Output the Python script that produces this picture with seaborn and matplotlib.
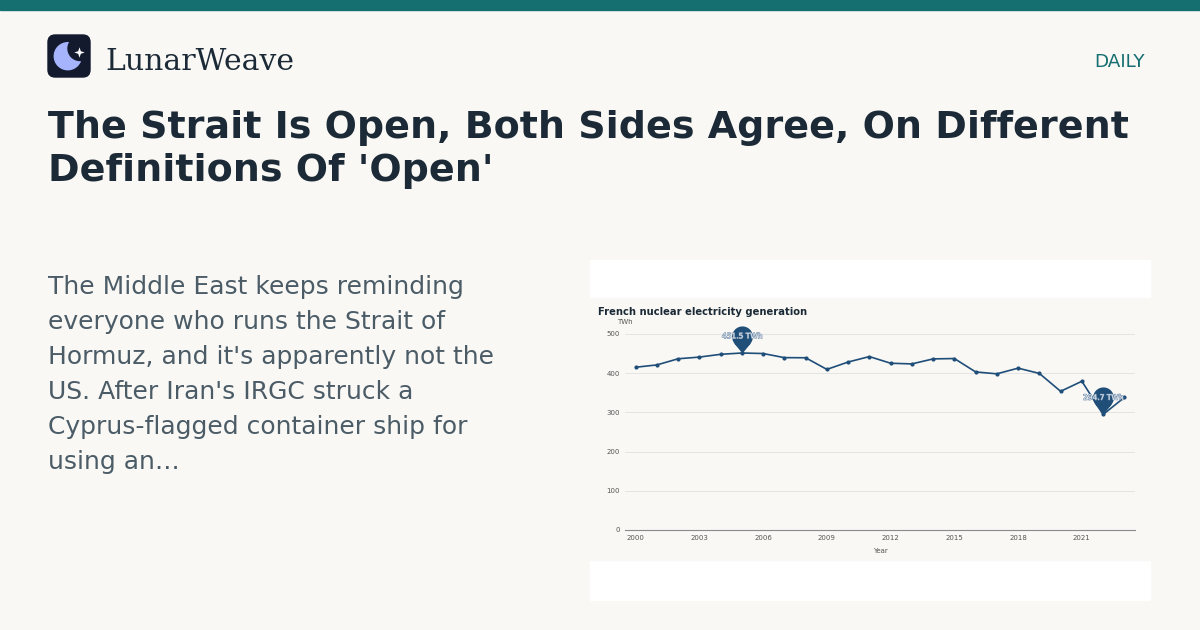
""" LunarWeave card - French nuclear generation chart. """

import numpy as np
import pandas as pd
import matplotlib
matplotlib.use("Agg")
import matplotlib.pyplot as plt
import matplotlib.patheffects as pe
from matplotlib.patches import FancyBboxPatch, Rectangle, Circle
from matplotlib.path import Path
import seaborn as sns

# data
years = list(range(2000, 2024))
twh = [415.2, 421.1, 436.8, 441.1, 448.2, 451.5, 450.2, 439.7, 439.4, 409.7,
       428.5, 442.4, 425.4, 423.7, 436.5, 437.4, 403.2, 398.4, 412.9, 399.4,
       353.8, 379.4, 294.7, 338.2]
y_ticks = [0, 100, 200, 300, 400, 500]
x_ticks = [2000, 2003, 2006, 2009, 2012, 2015, 2018, 2021]

title_lines = ["The Strait Is Open, Both Sides Agree, On Different",
               "Definitions Of 'Open'"]
desc_lines = ["The Middle East keeps reminding",
              "everyone who runs the Strait of",
              "Hormuz, and it's apparently not the",
              "US. After Iran's IRGC struck a",
              "Cyprus-flagged container ship for",
              "using an\u2026"]

df = pd.DataFrame({"Year": years, "TWh": twh})

BG = "#f9f8f5"
TEAL = "#156f70"
DARK = "#1b2a36"
GREY = "#4b5c67"
LINE = "#1f4e79"
NAVY = "#131a2e"

W, H = 1200, 630

sns.set_theme(style="white")
plt.rcParams["font.family"] = ["DejaVu Sans"]

fig = plt.figure(figsize=(12, 6.3), dpi=100)
fig.patch.set_facecolor(BG)


def fx(px):
    return px / W


def fy(py):
    return 1 - py / H


# top bar
fig.patches.append(Rectangle((0, fy(10)), 1, 10 / H, transform=fig.transFigure,
                             color=TEAL, zorder=-5))

# logo
fig.patches.append(FancyBboxPatch((fx(48), fy(77)), 42 / W, 42 / H,
                                  boxstyle="round,pad=0,rounding_size=0.006",
                                  transform=fig.transFigure, color=NAVY,
                                  mutation_aspect=W / H, zorder=-5))
logo_ax = fig.add_axes([fx(48), fy(77), 42 / W, 42 / H])
logo_ax.set_xlim(0, 42)
logo_ax.set_ylim(42, 0)
logo_ax.axis("off")
logo_ax.add_patch(Circle((19.8, 21.2), 13.5, color="#a5b4fc"))
logo_ax.add_patch(Circle((32, 13.5), 12, color=NAVY))
star = Path([(0, -1), (0.25, -0.25), (1, 0), (0.25, 0.25), (0, 1),
             (-0.25, 0.25), (-1, 0), (-0.25, -0.25), (0, -1)])
logo_ax.plot([30.5], [17], marker=star, markersize=7.5, color="white", mew=0)

fig.text(fx(105), fy(70), "LunarWeave", family="DejaVu Serif", fontsize=21.5,
         color=DARK, va="baseline", ha="left")
fig.text(fx(1145), fy(67), "DAILY", fontsize=13.2, color=TEAL,
         va="baseline", ha="right")

for i, line in enumerate(title_lines):
    fig.text(fx(48), fy(138 + i * 43), line, fontsize=27.4, fontweight="bold",
             color=DARK, va="baseline", ha="left")

for i, line in enumerate(desc_lines):
    fig.text(fx(48), fy(294 + i * 35), line, fontsize=18, color=GREY,
             va="baseline", ha="left")

# chart card
fig.patches.append(Rectangle((fx(590), fy(600)), 560 / W, 340 / H,
                             transform=fig.transFigure, color="white", zorder=-5))
fig.patches.append(Rectangle((fx(590), fy(560)), 560 / W, 262 / H,
                             transform=fig.transFigure, color=BG, zorder=-4))

ax = fig.add_axes([fx(625), fy(530), 510 / W, 196 / H])
ax.set_facecolor("none")
sns.lineplot(data=df, x="Year", y="TWh", ax=ax, color=LINE, linewidth=1.2,
             marker="o", markersize=3, markeredgewidth=0)
ax.set_xlim(1999.5, 2023.5)
ax.set_ylim(0, 500)
ax.set_xticks(x_ticks)
ax.set_yticks(y_ticks)
ax.tick_params(axis="both", length=0, labelsize=5, labelcolor="#555555", pad=3.5)
ax.grid(axis="y", color="#e4e4e2", linewidth=0.7)
ax.grid(axis="x", visible=False)
for s in ["top", "right", "left"]:
    ax.spines[s].set_visible(False)
ax.spines["bottom"].set_color("#8a8a8a")
ax.spines["bottom"].set_linewidth(0.8)
ax.set_xlabel("Year", fontsize=5, color="#555555", labelpad=5)
ax.set_ylabel("")
ax.text(-0.016, 1.045, "TWh", transform=ax.transAxes, fontsize=5,
        color="#555555", ha="left", va="bottom")

fig.text(fx(598), fy(315), "French nuclear electricity generation",
         fontsize=7.2, fontweight="bold", color=DARK, va="baseline", ha="left")

# pin markers for max and min
pin = Path.make_compound_path(
    Path.circle((0, 1.6), 1.0),
    Path([(0, 0), (0.78, 0.95), (-0.78, 0.95), (0, 0)]))
for idx in [int(np.argmax(twh)), int(np.argmin(twh))]:
    ax.plot([years[idx]], [twh[idx]], marker=pin, markersize=39, color=LINE,
            mew=0, clip_on=False, zorder=5)
    ax.annotate(f"{twh[idx]:.1f} TWh", (years[idx], twh[idx]),
                xytext=(0, 12), textcoords="offset points", ha="center",
                va="center", fontsize=5.4, color="#e3ebf4", zorder=6,
                path_effects=[pe.withStroke(linewidth=0.8, foreground="#7890aa")])

fig.savefig("out.png", dpi=100, facecolor=BG)
